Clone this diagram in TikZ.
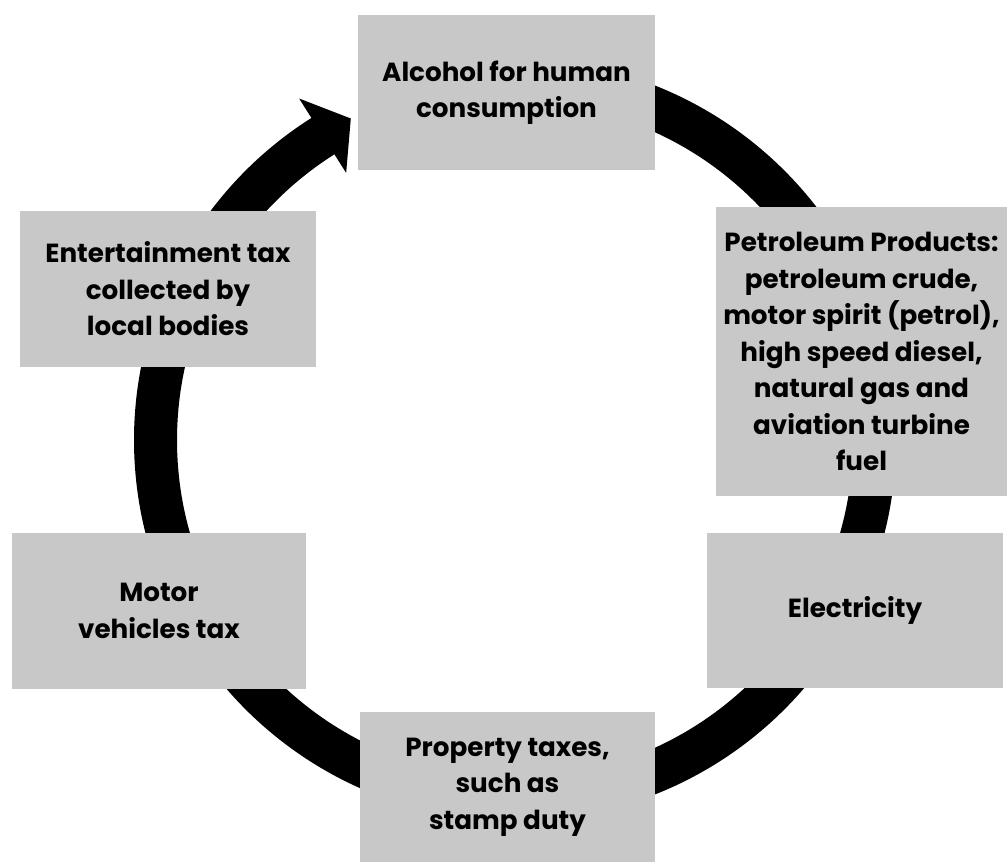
\documentclass[tikz,border=0pt]{standalone}
\usepackage{fontspec}
\setmainfont{Poppins}
\usetikzlibrary{calc}
\definecolor{boxgray}{RGB}{200,200,200}
\tikzset{
  x=1pt, y=1pt,
  taxbox/.style={fill=boxgray, draw=none, align=center, inner sep=0pt,
    font=\fontsize{26.2}{36.5}\selectfont\bfseries},
  ring/.style={line width=43pt, black}
}
\begin{document}
\begin{tikzpicture}
\useasboundingbox (0,0) rectangle (1007,862);
\coordinate (c) at (515,422);
% the cycle ring with its arrow head
\draw[ring] ($(c)+(90:359.5)$) arc[start angle=90, end angle=-237.9, radius=359.5];
\coordinate (notch) at ($(c)+(122.3:359.5)$);
\coordinate (wingout) at ($(c)+(122.3:404)$);
\coordinate (wingin) at ($(c)+(122.3:316)$);
\coordinate (tip) at ($(notch)+(32.3:33)$);
\fill[black] (wingout) -- (tip) -- (wingin) -- cycle;
% the boxes
\node[taxbox, minimum width=297, minimum height=155] (alcohol) at (506.5,769.5)
  {Alcohol for human\\consumption};
\node[taxbox, minimum width=296, minimum height=156] (entertain) at (168,573)
  {Entertainment tax\\collected by\\local bodies};
\node[taxbox, minimum width=291, minimum height=289] (petrol) at (861.5,510.5)
  {Petroleum Products:\\petroleum crude,\\motor spirit (petrol),\\high speed diesel,\\natural gas and\\aviation turbine\\fuel};
\node[taxbox, minimum width=296, minimum height=155] (elec) at (855,251.5)
  {Electricity};
\node[taxbox, minimum width=294, minimum height=156] (motor) at (159,251)
  {Motor\\vehicles tax};
\node[taxbox, minimum width=295, minimum height=150] (property) at (507.5,75)
  {Property taxes,\\such as\\stamp duty};
\end{tikzpicture}
\end{document}
